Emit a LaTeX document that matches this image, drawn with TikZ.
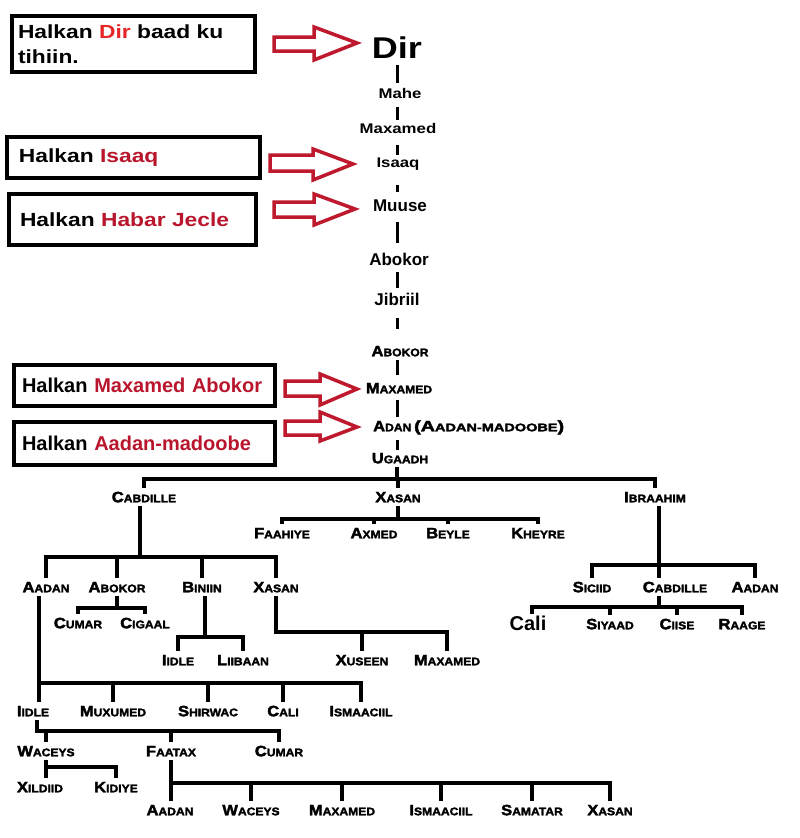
\documentclass[tikz,border=0pt]{standalone}
\usepackage{fontspec}
\usepackage{graphicx}
\setmainfont{Liberation Sans}
\newfontfamily\wf[FakeStretch=1.2]{Liberation Sans}
\newfontfamily\blk[FakeStretch=1.1,BoldFeatures={FakeBold=2.5}]{Liberation Sans}
\definecolor{arrred}{RGB}{190,25,45}
\definecolor{txtred}{RGB}{185,22,45}
\definecolor{dirred}{RGB}{228,38,38}
\newcommand\SC[2]{{\blk\bfseries\fontsize{15}{15}\selectfont#1\fontsize{11}{11}\selectfont#2}}
\begin{document}
\begin{tikzpicture}[x=1pt,y=-1pt,
  box/.style={draw=black, line width=4pt, align=left, anchor=center, inner ysep=0pt,
    font=\wf\bfseries\fontsize{19}{25}\selectfont},
  arr/.style={draw=arrred, line width=3.5pt, fill=white, line join=miter},
  cn/.style={inner sep=0pt, font=\wf\bfseries\fontsize{14}{14}\selectfont},
  cnb/.style={inner sep=0pt, font=\bfseries\fontsize{17}{17}\selectfont},
  tn/.style={inner xsep=1pt, inner ysep=4pt, text height=10.5pt, text depth=0pt},
  cl/.style={line width=3pt},
  tl/.style={line width=3.2pt}]
\useasboundingbox (0,0) rectangle (800,838);
\fill[white] (0,0) rectangle (800,838);

% ---------- boxes ----------
\node[box, inner xsep=6pt, text width=231pt, minimum width=243pt, minimum height=56pt] (b1) at (133.5,44)
  {Halkan \textcolor{dirred}{Dir} baad ku\\tihiin.};
\node[box, inner xsep=12pt, text width=229pt, minimum width=253pt, minimum height=41pt] (b2) at (133.5,157.5)
  {Halkan \textcolor{txtred}{Isaaq}};
\node[box, inner xsep=11pt, text width=225pt, minimum width=247pt, minimum height=51pt] (b3) at (132.5,219.5)
  {Halkan \textcolor{txtred}{Habar Jecle}};
\node[box, inner xsep=8pt, text width=245pt, minimum width=261pt, minimum height=41pt,
  font=\bfseries\fontsize{20}{24}\selectfont] (b4) at (144.5,385.5)
  {Halkan \textcolor{txtred}{Maxamed Abokor}};
\node[box, inner xsep=8pt, text width=245pt, minimum width=261pt, minimum height=43pt,
  font=\bfseries\fontsize{20}{24}\selectfont] (b5) at (144.5,443.5)
  {Halkan \textcolor{txtred}{Aadan-madoobe}};

% ---------- block arrows ----------
\draw[arr] (274,37) -- (314,37) -- (314,27) -- (357,43) -- (314,60) -- (314,51) -- (274,51) -- cycle;
\draw[arr] (270,155) -- (313,155) -- (313,149) -- (353,164) -- (313,180) -- (313,171) -- (270,171) -- cycle;
\draw[arr] (274,202) -- (314,202) -- (314,194) -- (355,209) -- (314,225) -- (314,217) -- (274,217) -- cycle;
\draw[arr] (285,381) -- (320,381) -- (320,374) -- (357,389) -- (320,405) -- (320,396) -- (285,396) -- cycle;
\draw[arr] (285,421) -- (320,421) -- (320,412) -- (357,427) -- (320,441) -- (320,435) -- (285,435) -- cycle;

% ---------- upper chain ----------
\node[inner sep=0pt, font=\wf\bfseries\fontsize{30}{30}\selectfont] (dir) at (397,48) {Dir};
\node[cn] (mahe) at (400,93) {Mahe};
\node[cn] (maxa) at (398,128) {Maxamed};
\node[cn] (isaaq) at (398,164) {Isaaq};
\node[cnb] (muuse) at (400,206) {Muuse};
\node[cnb] (abokor) at (399,259) {Abokor};
\node[cnb] (jib) at (397,299) {Jibriil};

\draw[cl] (dir.center) ++(0,17) -- ++(0,18);
\draw[cl] (mahe.center) ++(-3,14) -- ++(0,13);
\draw[cl] (maxa.center) ++(-1,17) -- ++(0,10);
\draw[cl] (isaaq.center) ++(-1,21) -- ++(0,7);
\draw[cl] (muuse.center) ++(-3,16) -- ++(0,21);
\draw[cl] (abokor.center) ++(-2,13) -- ++(0,16);
\draw[cl] (jib.center) ++(0,19) -- ++(0,11);

% ---------- lower chain ----------
\node[tn] (ab2) at (400,351) {\SC{A}{BOKOR}};
\node[tn] (mx2) at (399,388) {\SC{M}{AXAMED}};
\node[tn, anchor=west, inner xsep=0pt] (adan) at (373,426)
  {\SC{A}{DAN} \scalebox{1.2}[1]{\SC{(A}{ADAN-MADOOBE}\SC{)}{}}};
\node[tn] (ug) at (400,458) {\SC{U}{GAADH}};

\draw[cl] (ab2.center) ++(-3,9) -- ++(0,15);
\draw[cl] (mx2.center) ++(-2,12) -- ++(0,17);
\draw[cl] (ug.center) ++(-3,-18) -- ++(0,10);

% ---------- tree nodes ----------
\node[tn] (cab) at (144,497) {\SC{C}{ABDILLE}};
\node[tn] (xas) at (398,497) {\SC{X}{ASAN}};
\node[tn] (ibr) at (655,497) {\SC{I}{BRAAHIM}};

\node[tn] (faa) at (282,533) {\SC{F}{AAHIYE}};
\node[tn] (axm) at (374,533) {\SC{A}{XMED}};
\node[tn] (bey) at (448,533) {\SC{B}{EYLE}};
\node[tn] (khe) at (538,533) {\SC{K}{HEYRE}};

\node[tn] (aad) at (46,587) {\SC{A}{ADAN}};
\node[tn] (abo) at (117,587) {\SC{A}{BOKOR}};
\node[tn] (bin) at (202,587) {\SC{B}{INIIN}};
\node[tn] (xas2) at (276,587) {\SC{X}{ASAN}};

\node[tn] (cum) at (78,623) {\SC{C}{UMAR}};
\node[tn] (cig) at (145,623) {\SC{C}{IGAAL}};

\node[tn] (iid) at (178,660) {\SC{I}{IDLE}};
\node[tn] (lii) at (243,660) {\SC{L}{IIBAAN}};
\node[tn] (xus) at (362,660) {\SC{X}{USEEN}};
\node[tn] (max3) at (447,660) {\SC{M}{AXAMED}};

\node[tn] (iid2) at (33,711) {\SC{I}{IDLE}};
\node[tn] (mux) at (113,711) {\SC{M}{UXUMED}};
\node[tn] (shi) at (208,711) {\SC{S}{HIRWAC}};
\node[tn] (cal) at (283,711) {\SC{C}{ALI}};
\node[tn] (ism) at (361,711) {\SC{I}{SMAACIIL}};

\node[tn] (wac) at (46,751) {\SC{W}{ACEYS}};
\node[tn] (faa2) at (171,751) {\SC{F}{AATAX}};
\node[tn] (cum2) at (279,751) {\SC{C}{UMAR}};

\node[tn] (xil) at (40,787) {\SC{X}{ILDIID}};
\node[tn] (kid) at (116,787) {\SC{K}{IDIYE}};

\node[tn] (aad2) at (170,810) {\SC{A}{ADAN}};
\node[tn] (wac2) at (251,810) {\SC{W}{ACEYS}};
\node[tn] (max4) at (342,810) {\SC{M}{AXAMED}};
\node[tn] (ism2) at (441,810) {\SC{I}{SMAACIIL}};
\node[tn] (sam) at (532,810) {\SC{S}{AMATAR}};
\node[tn] (xas3) at (610,810) {\SC{X}{ASAN}};

\node[tn] (sic) at (592,587) {\SC{S}{ICIID}};
\node[tn] (cab2) at (675,587) {\SC{C}{ABDILLE}};
\node[tn] (aad3) at (755,587) {\SC{A}{ADAN}};

\node[inner xsep=1pt, inner ysep=1pt, text height=15pt, text depth=0pt,
  font=\bfseries\fontsize{20}{20}\selectfont] (cali) at (528,623) {Cali};
\node[tn] (siy) at (610,624) {\SC{S}{IYAAD}};
\node[tn] (cii) at (677,624) {\SC{C}{IISE}};
\node[tn] (raa) at (742,624) {\SC{R}{AAGE}};

% ---------- tree connectors ----------
% Ugaadh
\coordinate (bU) at (0,479);
\draw[tl] ([xshift=-3pt]ug.south) -- ([xshift=-3pt]ug.south |- bU);
\draw[tl] (cab.north) |- (ibr.north |- bU) -- (ibr.north);
\draw[tl] (xas.north) -- (xas.north |- bU);

% Xasan
\coordinate (bX) at (0,519);
\draw[tl] (xas.south) -- (xas.south |- bX);
\draw[tl] (faa.north) |- (khe.north |- bX) -- (khe.north);
\draw[tl] (axm.north) -- (axm.north |- bX);
\draw[tl] (bey.north) -- (bey.north |- bX);

% Cabdille
\coordinate (bC) at (0,557);
\draw[tl] ([xshift=-4pt]cab.south) -- ([xshift=-4pt]cab.south |- bC);
\draw[tl] (aad.north) |- (xas2.north |- bC) -- (xas2.north);
\draw[tl] (abo.north) -- (abo.north |- bC);
\draw[tl] (bin.north) -- (bin.north |- bC);

% Abokor
\coordinate (bA) at (0,608);
\draw[tl] (abo.south) -- (abo.south |- bA);
\draw[tl] (cum.north) |- (cig.north |- bA) -- (cig.north);

% Biniin
\coordinate (bB) at (0,637);
\draw[tl] ([xshift=3pt]bin.south) -- ([xshift=3pt]bin.south |- bB);
\draw[tl] (iid.north) |- (lii.north |- bB) -- (lii.north);

% Xasan (2)
\coordinate (bXs) at (0,632);
\draw[tl] (xas2.south) |- (max3.north |- bXs) -- (max3.north);
\draw[tl] (xus.north) -- (xus.north |- bXs);

% Aadan
\coordinate (bAa) at (0,683);
\coordinate (ax) at (39,0);
\draw[tl] (ax |- aad.south) -- (ax |- iid2.north);
\draw[tl] (ax |- bAa) -- (ism.north |- bAa) -- (ism.north);
\draw[tl] (mux.north) -- (mux.north |- bAa);
\draw[tl] (shi.north) -- (shi.north |- bAa);
\draw[tl] (cal.north) -- (cal.north |- bAa);

% Iidle
\coordinate (bI) at (0,731);
\coordinate (ix2) at (37,0);
\draw[tl] (ix2 |- iid2.south) |- (cum2.north |- bI) -- (cum2.north);
\draw[tl] (wac.north) -- (wac.north |- bI);
\draw[tl] (faa2.north) -- (faa2.north |- bI);

% Waceys
\coordinate (bW) at (0,767);
\draw[tl] (wac.south) -- (wac.south |- xil.north);
\draw[tl] (wac.south |- bW) -| (kid.north);

% Faatax
\coordinate (bF) at (0,783);
\draw[tl] (faa2.south) -- (faa2.south |- aad2.north);
\draw[tl] (faa2.south |- bF) -| (xas3.north);
\draw[tl] (wac2.north) -- (wac2.north |- bF);
\draw[tl] (max4.north) -- (max4.north |- bF);
\draw[tl] (ism2.north) -- (ism2.north |- bF);
\draw[tl] (sam.north) -- (sam.north |- bF);

% Ibraahim
\coordinate (bIb) at (0,565);
\coordinate (ibx) at (659,0);
\draw[tl] (ibx |- ibr.south) -- (ibx |- cab2.north);
\draw[tl] (sic.north) |- (aad3.north |- bIb) -- (aad3.north);

% Cabdille (2)
\coordinate (bCb) at (0,607);
\draw[tl] (ibx |- cab2.south) -- (ibx |- bCb);
\draw[tl] ([xshift=4pt]cali.north) |- (raa.north |- bCb) -- (raa.north);
\draw[tl] (siy.north) -- (siy.north |- bCb);
\draw[tl] (cii.north) -- (cii.north |- bCb);
\end{tikzpicture}
\end{document}
